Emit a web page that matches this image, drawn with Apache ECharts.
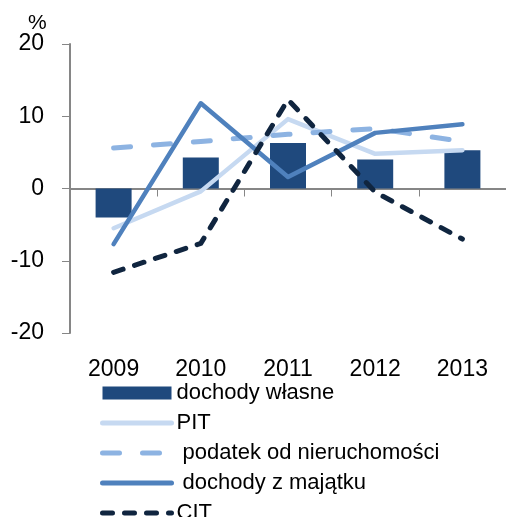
<!DOCTYPE html>
<html>
<head>
<meta charset="utf-8">
<script src="https://cdn.jsdelivr.net/npm/echarts@6/dist/echarts.min.js"></script>
<style>
  html, body { margin: 0; padding: 0; background: #fff; }
  #chart { width: 506px; height: 517px; }
</style>
</head>
<body>
<div id="chart"></div>
<script>
var years = ["2009", "2010", "2011", "2012", "2013"];
var yTicks = [-20, -10, 0, 10, 20];
var dochodyWlasne = [-4.0, 4.3, 6.3, 4.0, 5.3];
var pit = [-5.5, -0.4, 9.6, 4.8, 5.3];
var podatekNieruch = [5.6, 6.5, 7.5, 8.3, 6.5];
var dochodyMajatek = [-7.7, 11.8, 1.6, 7.7, 8.9];
var cit = [-11.6, -7.6, 12.3, -0.5, -7.0];

var font = "Liberation Sans";
var colors = ["#1f497d", "#c6d9f1", "#8db3e2", "#4f81bd", "#10253f"];
var chart = echarts.init(document.getElementById("chart"));

// legend entry for a line series: hide the symbol, keep the line
function lineItem(name, color, width, type) {
  return {
    name: name,
    itemStyle: { opacity: 0 },
    lineStyle: { color: color, width: width, type: type, cap: "round" }
  };
}

chart.setOption({
  animation: false,
  textStyle: { fontFamily: font },
  title: {
    text: "%",
    left: 23,
    top: 8,
    textStyle: { fontSize: 21, fontWeight: "normal", color: "#000", fontFamily: font }
  },
  grid: { left: 70, top: 44, bottom: 184, right: -9, containLabel: false },
  legend: {
    orient: "vertical",
    left: 95,
    top: 377,
    height: 200,
    itemWidth: 69,
    itemHeight: 13,
    itemGap: 8,
    textStyle: { fontSize: 22, color: "#000", fontFamily: font },
    data: [
      { name: "dochody własne", icon: "rect" },
      lineItem("PIT", colors[1], 5, "solid"),
      lineItem(" podatek od nieruchomości", colors[2], 5, [17, 23]),
      lineItem(" dochody z majątku", colors[3], 5, "solid"),
      lineItem("CIT", colors[4], 5, [10, 12])
    ]
  },
  xAxis: [
    {
      type: "category",
      data: years,
      position: "bottom",
      axisLine: { onZero: true, lineStyle: { color: "#868686", width: 2 } },
      axisTick: { show: true, length: 8, lineStyle: { color: "#868686", width: 1 } },
      axisLabel: { show: false }
    },
    {
      type: "category",
      data: years,
      position: "bottom",
      axisLine: { show: false, onZero: false },
      axisTick: { show: false },
      axisLabel: { margin: 25, fontSize: 23, color: "#000", fontFamily: font }
    }
  ],
  yAxis: {
    type: "value",
    min: yTicks[0],
    max: yTicks[yTicks.length - 1],
    interval: 10,
    splitLine: { show: false },
    axisLine: { show: true, lineStyle: { color: "#868686", width: 2 } },
    axisTick: { show: true, length: 8, lineStyle: { color: "#868686", width: 1 } },
    axisLabel: { margin: 26, fontSize: 23, color: "#000", fontFamily: font }
  },
  series: [
    {
      name: "dochody własne",
      type: "bar",
      barWidth: 36,
      data: dochodyWlasne,
      itemStyle: { color: colors[0] }
    },
    {
      name: "PIT",
      type: "line",
      data: pit,
      symbol: "none",
      itemStyle: { color: colors[1] },
      lineStyle: { color: colors[1], width: 4.5, cap: "round", join: "round" }
    },
    {
      name: " podatek od nieruchomości",
      type: "line",
      data: podatekNieruch,
      symbol: "none",
      itemStyle: { color: colors[2] },
      lineStyle: { color: colors[2], width: 5, type: [17, 23], cap: "round", join: "round" }
    },
    {
      name: " dochody z majątku",
      type: "line",
      data: dochodyMajatek,
      symbol: "none",
      itemStyle: { color: colors[3] },
      lineStyle: { color: colors[3], width: 4.5, cap: "round", join: "round" }
    },
    {
      name: "CIT",
      type: "line",
      data: cit,
      symbol: "none",
      itemStyle: { color: colors[4] },
      lineStyle: { color: colors[4], width: 5, type: [10, 12], cap: "round", join: "round" }
    }
  ]
});
</script>
</body>
</html>
